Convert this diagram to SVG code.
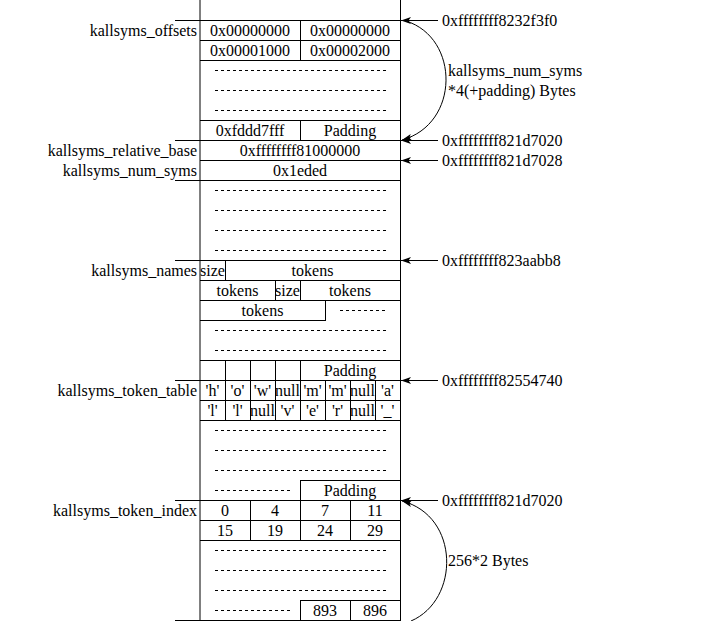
<svg xmlns="http://www.w3.org/2000/svg" width="722" height="621" viewBox="0 0 722 621">
<style>
text{font-family:"Liberation Serif","Times New Roman",serif;font-size:16px;fill:#000}
.c{text-anchor:middle}
.e{text-anchor:end}
.ln{stroke:#000;stroke-width:1;fill:none}
.d{stroke:#000;stroke-width:1;stroke-dasharray:3 3;fill:none}
.cv{stroke:#000;stroke-width:1;fill:none}
</style>
<defs>
<marker id="ah" markerUnits="userSpaceOnUse" markerWidth="12" markerHeight="10" viewBox="0 -5 12 10" refX="10" refY="0" orient="auto">
<path d="M0,-3.5 L10,0 L0,3.5 L2.5,0 Z" fill="#000"/>
</marker>
</defs>
<rect width="722" height="621" fill="#fff"/>

<g id="frame">
<line class="ln" x1="200" y1="0" x2="200" y2="621"/>
<line class="ln" x1="400.5" y1="0" x2="400.5" y2="621"/>
</g>

<g id="kallsyms_offsets">
<line class="ln" x1="175" y1="20.5" x2="400" y2="20.5"/>
<line class="ln" x1="200" y1="40.5" x2="400" y2="40.5"/>
<line class="ln" x1="200" y1="60.5" x2="400" y2="60.5"/>
<line class="ln" x1="300.5" y1="20" x2="300.5" y2="60"/>
<text class="e" x="197" y="36">kallsyms_offsets</text>
<text class="c" x="250" y="36">0x00000000</text>
<text class="c" x="350" y="36">0x00000000</text>
<text class="c" x="250" y="56">0x00001000</text>
<text class="c" x="350" y="56">0x00002000</text>
<line class="d" x1="215" y1="70.5" x2="386" y2="70.5"/>
<line class="d" x1="215" y1="90.5" x2="386" y2="90.5"/>
<line class="d" x1="215" y1="110.5" x2="386" y2="110.5"/>
<line class="ln" x1="200" y1="120.5" x2="400" y2="120.5"/>
<line class="ln" x1="300.5" y1="120" x2="300.5" y2="140"/>
<text class="c" x="250" y="136">0xfddd7fff</text>
<text class="c" x="350" y="136">Padding</text>
</g>

<g id="kallsyms_relative_base">
<line class="ln" x1="175" y1="140.5" x2="400" y2="140.5"/>
<text class="e" x="197" y="156">kallsyms_relative_base</text>
<text class="c" x="300" y="156">0xffffffff81000000</text>
</g>

<g id="kallsyms_num_syms">
<line class="ln" x1="200" y1="160.5" x2="400" y2="160.5"/>
<line class="ln" x1="175" y1="180.5" x2="400" y2="180.5"/>
<text class="e" x="197" y="176">kallsyms_num_syms</text>
<text class="c" x="300" y="176">0x1eded</text>
<line class="d" x1="215" y1="190.5" x2="386" y2="190.5"/>
<line class="d" x1="215" y1="210.5" x2="386" y2="210.5"/>
<line class="d" x1="215" y1="230.5" x2="386" y2="230.5"/>
<line class="d" x1="215" y1="250.5" x2="386" y2="250.5"/>
</g>

<g id="kallsyms_names">
<line class="ln" x1="175" y1="260.5" x2="400" y2="260.5"/>
<line class="ln" x1="200" y1="280.5" x2="400" y2="280.5"/>
<line class="ln" x1="200" y1="300.5" x2="400" y2="300.5"/>
<line class="ln" x1="200" y1="320.5" x2="325" y2="320.5"/>
<line class="ln" x1="225.5" y1="260" x2="225.5" y2="280"/>
<line class="ln" x1="275.5" y1="280" x2="275.5" y2="300"/>
<line class="ln" x1="300.5" y1="280" x2="300.5" y2="300"/>
<line class="ln" x1="325.5" y1="300" x2="325.5" y2="321"/>
<text class="e" x="197" y="276">kallsyms_names</text>
<text class="c" x="212.5" y="276">size</text>
<text class="c" x="312.5" y="276">tokens</text>
<text class="c" x="237.5" y="296">tokens</text>
<text class="c" x="287.5" y="296">size</text>
<text class="c" x="350" y="296">tokens</text>
<text class="c" x="262.5" y="316">tokens</text>
<line class="d" x1="340" y1="310.5" x2="386" y2="310.5"/>
<line class="d" x1="215" y1="330.5" x2="386" y2="330.5"/>
<line class="d" x1="215" y1="350.5" x2="386" y2="350.5"/>
</g>

<g id="kallsyms_token_table">
<line class="ln" x1="200" y1="360.5" x2="400" y2="360.5"/>
<line class="ln" x1="175" y1="380.5" x2="400" y2="380.5"/>
<line class="ln" x1="200" y1="400.5" x2="400" y2="400.5"/>
<line class="ln" x1="200" y1="420.5" x2="400" y2="420.5"/>
<line class="ln" x1="225.5" y1="360" x2="225.5" y2="420"/>
<line class="ln" x1="250.5" y1="360" x2="250.5" y2="420"/>
<line class="ln" x1="275.5" y1="360" x2="275.5" y2="420"/>
<line class="ln" x1="300.5" y1="360" x2="300.5" y2="420"/>
<line class="ln" x1="325.5" y1="380" x2="325.5" y2="420"/>
<line class="ln" x1="350.5" y1="380" x2="350.5" y2="420"/>
<line class="ln" x1="375.5" y1="380" x2="375.5" y2="420"/>
<text class="c" x="350" y="376">Padding</text>
<text class="e" x="197" y="396">kallsyms_token_table</text>
<text class="c" x="212.5" y="396">'h'</text>
<text class="c" x="237.5" y="396">'o'</text>
<text class="c" x="262.5" y="396">'w'</text>
<text class="c" x="287.5" y="396">null</text>
<text class="c" x="312.5" y="396">'m'</text>
<text class="c" x="337.5" y="396">'m'</text>
<text class="c" x="362.5" y="396">null</text>
<text class="c" x="387.5" y="396">'a'</text>
<text class="c" x="212.5" y="416">'l'</text>
<text class="c" x="237.5" y="416">'l'</text>
<text class="c" x="262.5" y="416">null</text>
<text class="c" x="287.5" y="416">'v'</text>
<text class="c" x="312.5" y="416">'e'</text>
<text class="c" x="337.5" y="416">'r'</text>
<text class="c" x="362.5" y="416">null</text>
<text class="c" x="387.5" y="416">'_'</text>
<line class="d" x1="215" y1="430.5" x2="386" y2="430.5"/>
<line class="d" x1="215" y1="450.5" x2="386" y2="450.5"/>
<line class="d" x1="215" y1="470.5" x2="386" y2="470.5"/>
<line class="d" x1="215" y1="490.5" x2="290" y2="490.5"/>
<line class="ln" x1="300" y1="480.5" x2="400" y2="480.5"/>
<line class="ln" x1="300.5" y1="480" x2="300.5" y2="500"/>
<text class="c" x="350" y="496">Padding</text>
</g>

<g id="kallsyms_token_index">
<line class="ln" x1="175" y1="500.5" x2="400" y2="500.5"/>
<line class="ln" x1="200" y1="520.5" x2="400" y2="520.5"/>
<line class="ln" x1="200" y1="540.5" x2="400" y2="540.5"/>
<line class="ln" x1="250.5" y1="500" x2="250.5" y2="540"/>
<line class="ln" x1="300.5" y1="500" x2="300.5" y2="540"/>
<line class="ln" x1="350.5" y1="500" x2="350.5" y2="540"/>
<text class="e" x="197" y="516">kallsyms_token_index</text>
<text class="c" x="225" y="516">0</text>
<text class="c" x="275" y="516">4</text>
<text class="c" x="325" y="516">7</text>
<text class="c" x="375" y="516">11</text>
<text class="c" x="225" y="536">15</text>
<text class="c" x="275" y="536">19</text>
<text class="c" x="325" y="536">24</text>
<text class="c" x="375" y="536">29</text>
<line class="d" x1="215" y1="550.5" x2="386" y2="550.5"/>
<line class="d" x1="215" y1="570.5" x2="386" y2="570.5"/>
<line class="d" x1="215" y1="590.5" x2="386" y2="590.5"/>
<line class="d" x1="215" y1="610.5" x2="290" y2="610.5"/>
<line class="ln" x1="300" y1="600.5" x2="400" y2="600.5"/>
<line class="ln" x1="300.5" y1="600" x2="300.5" y2="620"/>
<line class="ln" x1="350.5" y1="600" x2="350.5" y2="620"/>
<line class="ln" x1="175" y1="620.5" x2="400" y2="620.5"/>
<text class="c" x="325" y="616">893</text>
<text class="c" x="375" y="616">896</text>
</g>

<g id="connectors">
<line class="ln" x1="438" y1="20.5" x2="401" y2="20.5" marker-end="url(#ah)"/>
<line class="ln" x1="438" y1="140.5" x2="401" y2="140.5" marker-end="url(#ah)"/>
<line class="ln" x1="438" y1="160.5" x2="401" y2="160.5" marker-end="url(#ah)"/>
<line class="ln" x1="438" y1="260.5" x2="401" y2="260.5" marker-end="url(#ah)"/>
<line class="ln" x1="438" y1="380.5" x2="401" y2="380.5" marker-end="url(#ah)"/>
<line class="ln" x1="438" y1="500.5" x2="401" y2="500.5" marker-end="url(#ah)"/>
<path class="cv" d="M406,21 C460,38 460,124 402,140" marker-end="url(#ah)"/>
<path class="cv" d="M411,621 C460,600 460,516 402,501" marker-end="url(#ah)"/>
</g>

<g id="address_labels">
<text x="442" y="26">0xffffffff8232f3f0</text>
<text x="442" y="146">0xffffffff821d7020</text>
<text x="442" y="166">0xffffffff821d7028</text>
<text x="442" y="266">0xffffffff823aabb8</text>
<text x="442" y="386">0xffffffff82554740</text>
<text x="442" y="506">0xffffffff821d7020</text>
<text x="448" y="76">kallsyms_num_syms</text>
<text x="448" y="96">*4(+padding) Bytes</text>
<text x="448" y="566">256*2 Bytes</text>
</g>
</svg>
